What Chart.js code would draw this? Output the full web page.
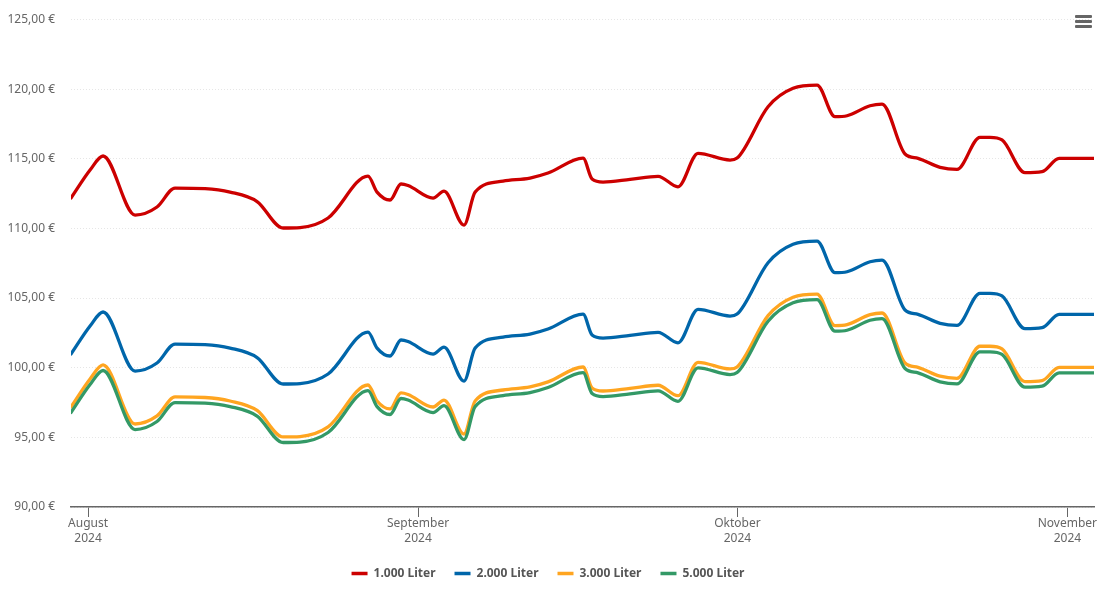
<!DOCTYPE html>
<html lang="de">
<head>
    <meta charset="UTF-8">
    <title>Heizölpreise</title>
    <script src="https://cdn.jsdelivr.net/npm/chart.js"></script>
    <style>
        body {
            margin: 0;
            background-color: #fff;
            font-family: 'Noto Sans', sans-serif;
        }
        .wrap {
            position: relative;
            width: 1105px;
            height: 602px;
        }
        .menu {
            position: absolute;
            left: 1075px;
            top: 15px;
            width: 17px;
        }
        .menu span {
            display: block;
            height: 3px;
            margin-bottom: 2px;
            background-color: #666;
            border-radius: 1px;
        }
    </style>
</head>
<body>
    <div class="wrap">
        <canvas id="priceChart" width="1105" height="602"></canvas>
        <div class="menu"><span></span><span></span><span></span></div>
    </div>

    <script>
        // days counted from 1 August 2024
        const days = [-1.6,0.19,1.41,4.42,6.48,8.17,10.99,13.34,15.88,18.32,19.92,22.55,26.3,27.15,28.37,29.4,30.06,32.41,33.44,35.32,36.36,38.99,41.52,43.21,46.5,47.35,48.38,50.92,53.55,55.42,57.3,60.31,60.97,63.88,66.23,68.48,70.17,71.3,73.46,74.59,76.75,77.97,80.04,81.63,83.79,84.73,85.86,88.02,89.62,91.22,94.5];

        const liter1000 = [112.18,114.19,115.2,110.96,111.54,112.9,112.86,112.61,111.93,110.03,110.06,110.75,113.76,112.61,112.04,113.19,113.08,112.18,112.68,110.24,112.61,113.4,113.62,113.98,115.05,113.55,113.33,113.52,113.74,112.99,115.39,114.91,115.05,118.74,120.06,120.29,118.02,118.09,118.81,118.93,115.34,115.03,114.39,114.24,116.54,116.54,116.35,114.0,114.07,115.03,115.03];
        const liter2000 = [100.98,102.99,104.0,99.76,100.34,101.7,101.66,101.41,100.73,98.83,98.86,99.55,102.56,101.41,100.84,101.99,101.88,100.98,101.48,99.04,101.41,102.2,102.42,102.78,103.85,102.35,102.13,102.32,102.54,101.79,104.19,103.71,103.85,107.54,108.86,109.09,106.82,106.89,107.61,107.73,104.14,103.83,103.19,103.04,105.34,105.34,105.15,102.8,102.87,103.83,103.83];
        const liter3000 = [97.18,99.19,100.2,95.96,96.54,97.9,97.86,97.61,96.93,95.03,95.06,95.75,98.76,97.61,97.04,98.19,98.08,97.18,97.68,95.24,97.61,98.4,98.62,98.98,100.05,98.55,98.33,98.52,98.74,97.99,100.39,99.91,100.05,103.74,105.06,105.29,103.02,103.09,103.81,103.93,100.34,100.03,99.39,99.24,101.54,101.54,101.35,99.0,99.07,100.03,100.03];
        const liter5000 = [96.78,98.79,99.8,95.56,96.14,97.5,97.46,97.21,96.53,94.63,94.66,95.35,98.36,97.21,96.64,97.79,97.68,96.78,97.28,94.84,97.21,98.0,98.22,98.58,99.65,98.15,97.93,98.12,98.34,97.59,99.99,99.51,99.65,103.34,104.66,104.89,102.62,102.69,103.41,103.53,99.94,99.63,98.99,98.84,101.14,101.14,100.95,98.6,98.67,99.63,99.63];

        const monthTicks = [0, 31, 61, 92];
        const monthLabels = [['August', '2024'], ['September', '2024'], ['Oktober', '2024'], ['November', '2024']];

        function series(label, values, color, order) {
            return {
                label: label,
                data: days.map((d, i) => ({ x: d, y: values[i] })),
                borderColor: color,
                backgroundColor: color,
                borderWidth: 3.3,
                borderCapStyle: 'round',
                pointRadius: 0,
                pointStyle: 'line',
                cubicInterpolationMode: 'monotone',
                order: order
            };
        }

        new Chart(document.getElementById('priceChart'), {
            type: 'line',
            data: {
                datasets: [
                    series('1.000 Liter', liter1000, '#cc0000', 4),
                    series('2.000 Liter', liter2000, '#0066aa', 3),
                    series('3.000 Liter', liter3000, '#ffa520', 2),
                    series('5.000 Liter', liter5000, '#339966', 1)
                ]
            },
            options: {
                responsive: false,
                animation: false,
                layout: { padding: { top: 19.5, right: 11, bottom: 12.5, left: 2 } },
                plugins: {
                    tooltip: { enabled: false },
                    legend: {
                        position: 'bottom',
                        labels: {
                            usePointStyle: true,
                            pointStyleWidth: 16,
                            padding: 19,
                            color: '#555',
                            font: { family: "'Noto Sans', sans-serif", size: 12, weight: 'bold' },
                            sort: (a, b) => a.datasetIndex - b.datasetIndex
                        }
                    }
                },
                scales: {
                    x: {
                        type: 'linear',
                        min: -1.6,
                        max: 94.5,
                        afterBuildTicks: scale => {
                            scale.ticks = monthTicks.map(v => ({ value: v }));
                        },
                        afterFit: scale => { scale.height = 41.5; },
                        grid: { drawOnChartArea: false, color: '#666', tickLength: 10 },
                        border: { color: '#666', width: 1.5 },
                        ticks: {
                            autoSkip: false,
                            maxRotation: 0,
                            padding: -1,
                            color: '#666',
                            font: { family: "'Noto Sans', sans-serif", size: 12, lineHeight: 1.25 },
                            callback: v => monthLabels[monthTicks.indexOf(v)]
                        }
                    },
                    y: {
                        min: 90,
                        max: 125,
                        afterFit: scale => {
                            scale.width = 69;
                            scale.paddingTop = 0;
                            scale.paddingBottom = 0;
                        },
                        grid: { color: '#e6e6e6', drawTicks: false },
                        border: { display: false, dash: [1, 2] },
                        ticks: {
                            stepSize: 5,
                            padding: 16,
                            color: '#666',
                            font: { family: "'Noto Sans', sans-serif", size: 12 },
                            callback: v => v.toFixed(2).replace('.', ',') + ' €'
                        }
                    }
                }
            }
        });
    </script>
</body>
</html>
